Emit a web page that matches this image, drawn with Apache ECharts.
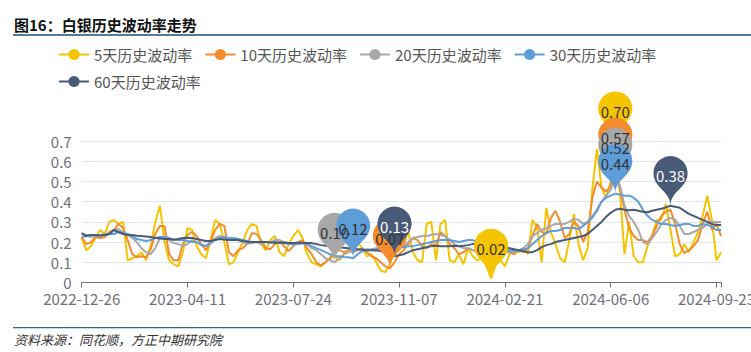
<!DOCTYPE html>
<html>
<head>
<meta charset="utf-8">
<script src="https://cdn.jsdelivr.net/npm/echarts@6/dist/echarts.min.js"></script>
<style>
html,body{margin:0;padding:0;background:#fff;}
#c{width:751px;height:352px;}
</style>
</head>
<body>
<div id="c"></div>
<script>
// ---- data ----
const tickLabels = ['2022-12-26','2023-04-11','2023-07-24','2023-11-07','2024-02-21','2024-06-06','2024-09-23'];
const pointsPerTick = 23;
const seriesNames = ['5天历史波动率','10天历史波动率','20天历史波动率','30天历史波动率','60天历史波动率'];

const vol5 = [
0.22,0.16,0.18,0.22,0.26,0.24,0.30,0.31,0.29,0.30,
0.11,0.12,0.13,0.15,0.11,0.18,0.30,0.38,0.20,0.11,
0.09,0.08,0.15,0.27,0.26,0.18,0.14,0.12,0.21,0.31,
0.29,0.20,0.09,0.10,0.15,0.20,0.26,0.29,0.28,0.19,
0.16,0.21,0.23,0.15,0.13,0.19,0.23,0.26,0.22,0.14,
0.10,0.09,0.08,0.10,0.12,0.13,0.11,0.14,0.15,0.18,
0.20,0.17,0.13,0.14,0.10,0.06,0.05,0.09,0.16,0.18,
0.20,0.25,0.15,0.11,0.10,0.29,0.30,0.11,0.29,0.31,
0.11,0.10,0.14,0.09,0.17,0.13,0.11,0.12,0.08,0.02,
0.09,0.11,0.08,0.14,0.16,0.15,0.17,0.14,0.31,0.27,
0.10,0.37,0.25,0.19,0.12,0.10,0.21,0.34,0.19,0.11,
0.17,0.46,0.66,0.47,0.42,0.50,0.70,0.45,0.14,0.30,
0.13,0.10,0.10,0.18,0.23,0.31,0.31,0.39,0.26,0.13,
0.14,0.19,0.15,0.20,0.25,0.33,0.43,0.31,0.11,0.15
];
const vol10 = [
0.225,0.19,0.20,0.225,0.22,0.225,0.25,0.26,0.29,0.27,
0.21,0.14,0.125,0.13,0.125,0.165,0.24,0.28,0.28,0.14,
0.11,0.11,0.19,0.235,0.25,0.23,0.19,0.16,0.20,0.26,
0.29,0.28,0.15,0.13,0.16,0.17,0.19,0.245,0.24,0.21,
0.17,0.165,0.19,0.21,0.18,0.155,0.18,0.20,0.21,0.17,
0.14,0.10,0.085,0.10,0.12,0.16,0.16,0.15,0.16,0.15,
0.16,0.17,0.15,0.13,0.12,0.10,0.08,0.07,0.10,0.14,
0.16,0.19,0.22,0.21,0.18,0.17,0.19,0.18,0.25,0.23,
0.19,0.17,0.14,0.15,0.17,0.16,0.15,0.15,0.14,0.12,
0.13,0.14,0.15,0.15,0.14,0.16,0.15,0.17,0.23,0.29,
0.25,0.24,0.32,0.355,0.30,0.22,0.24,0.30,0.28,0.20,
0.25,0.42,0.50,0.47,0.45,0.48,0.57,0.46,0.36,0.27,
0.23,0.21,0.21,0.20,0.23,0.28,0.33,0.35,0.36,0.29,
0.19,0.145,0.16,0.18,0.21,0.29,0.35,0.26,0.29,0.23
];
const vol20 = [
0.24,0.235,0.225,0.23,0.235,0.24,0.24,0.26,0.265,0.25,
0.235,0.22,0.20,0.17,0.15,0.14,0.17,0.22,0.225,0.21,
0.195,0.19,0.18,0.19,0.21,0.20,0.19,0.18,0.19,0.22,
0.23,0.22,0.215,0.21,0.21,0.20,0.19,0.195,0.20,0.19,
0.20,0.20,0.21,0.21,0.20,0.195,0.185,0.19,0.195,0.19,
0.17,0.16,0.14,0.12,0.11,0.10,0.12,0.14,0.15,0.155,
0.16,0.16,0.165,0.165,0.17,0.165,0.16,0.165,0.17,0.175,
0.18,0.20,0.22,0.225,0.23,0.23,0.235,0.24,0.235,0.23,
0.21,0.19,0.18,0.17,0.17,0.16,0.16,0.155,0.15,0.15,
0.16,0.165,0.16,0.15,0.155,0.16,0.17,0.19,0.23,0.245,
0.26,0.27,0.28,0.29,0.29,0.29,0.30,0.315,0.31,0.29,
0.30,0.33,0.35,0.40,0.43,0.46,0.52,0.48,0.38,0.33,
0.30,0.26,0.20,0.19,0.22,0.25,0.29,0.31,0.32,0.31,
0.28,0.24,0.24,0.25,0.26,0.27,0.29,0.30,0.30,0.30
];
const vol30 = [
0.225,0.23,0.235,0.235,0.235,0.235,0.24,0.24,0.25,0.245,
0.24,0.23,0.215,0.21,0.205,0.21,0.22,0.225,0.225,0.22,
0.21,0.21,0.21,0.205,0.20,0.20,0.185,0.18,0.20,0.21,
0.22,0.225,0.22,0.22,0.215,0.21,0.205,0.20,0.20,0.20,
0.20,0.20,0.20,0.195,0.195,0.19,0.19,0.19,0.195,0.19,
0.18,0.17,0.16,0.15,0.14,0.13,0.13,0.125,0.125,0.12,
0.14,0.155,0.16,0.16,0.165,0.17,0.17,0.175,0.175,0.175,
0.175,0.18,0.18,0.185,0.19,0.195,0.20,0.205,0.21,0.21,
0.21,0.205,0.20,0.205,0.21,0.21,0.20,0.19,0.18,0.17,
0.165,0.16,0.16,0.16,0.155,0.16,0.165,0.17,0.19,0.21,
0.23,0.245,0.255,0.255,0.26,0.27,0.27,0.27,0.265,0.28,
0.30,0.32,0.36,0.40,0.42,0.43,0.44,0.435,0.43,0.43,
0.42,0.40,0.36,0.33,0.31,0.30,0.29,0.29,0.285,0.28,
0.285,0.29,0.29,0.28,0.28,0.29,0.285,0.275,0.26,0.26
];
const vol60 = [
0.245,0.23,0.235,0.235,0.232,0.235,0.24,0.26,0.25,0.24,
0.235,0.235,0.232,0.23,0.228,0.225,0.22,0.218,0.215,0.215,
0.213,0.215,0.22,0.222,0.22,0.215,0.21,0.205,0.205,0.21,
0.215,0.213,0.21,0.21,0.21,0.205,0.202,0.20,0.20,0.20,
0.20,0.198,0.197,0.197,0.198,0.196,0.195,0.197,0.197,0.196,
0.195,0.19,0.185,0.182,0.18,0.175,0.173,0.172,0.17,0.168,
0.165,0.163,0.16,0.16,0.158,0.156,0.15,0.145,0.13,0.135,
0.14,0.15,0.16,0.165,0.17,0.175,0.18,0.182,0.18,0.18,
0.18,0.182,0.18,0.182,0.185,0.19,0.19,0.185,0.185,0.18,
0.18,0.175,0.175,0.17,0.165,0.16,0.155,0.15,0.15,0.16,
0.175,0.185,0.19,0.20,0.205,0.21,0.215,0.22,0.225,0.23,
0.24,0.26,0.28,0.30,0.325,0.345,0.36,0.365,0.36,0.358,
0.36,0.355,0.35,0.348,0.355,0.36,0.365,0.372,0.38,0.375,
0.37,0.355,0.34,0.33,0.32,0.31,0.30,0.29,0.285,0.285
];
const seriesValues = [vol5, vol10, vol20, vol30, vol60];

// ---- styles ----
const colors = ['#F5C400', '#F28C2C', '#A8A8A8', '#5E9DD8', '#485A76'];
const pinTextColors = ['#333333', '#333333', '#333333', '#333333', '#ffffff'];
const FONT = '"Noto Sans CJK SC", "Noto Sans", sans-serif';

// category dates (one category per ~3 trading days, tick dates fixed)
function fmt(ms) {
  const d = new Date(ms);
  const p = n => (n < 10 ? '0' : '') + n;
  return d.getUTCFullYear() + '-' + p(d.getUTCMonth() + 1) + '-' + p(d.getUTCDate());
}
function buildCategories() {
  const day = 86400000;
  const t = tickLabels.map(s => Date.parse(s + 'T00:00:00Z'));
  const out = [];
  for (let j = 0; j < t.length - 1; j++) {
    const span = (t[j + 1] - t[j]) / day;
    for (let s = 0; s < pointsPerTick; s++) {
      out.push(fmt(t[j] + Math.round(s * span / pointsPerTick) * day));
    }
  }
  out.push(tickLabels[tickLabels.length - 1]);
  out.push(fmt(t[t.length - 1] + 3 * day));
  return out;
}
const categories = buildCategories();

const chart = echarts.init(document.getElementById('c'), null, { renderer: 'svg' });

const series = seriesNames.map((name, i) => ({
  name: name,
  type: 'line',
  data: seriesValues[i],
  symbol: 'circle',
  showSymbol: false,
  symbolSize: 6,
  lineStyle: { width: 2, color: colors[i] },
  itemStyle: { color: colors[i] },
  markPoint: {
    symbol: 'pin',
    symbolSize: 57,
    data: [{ type: 'max', name: '最大值' }, { type: 'min', name: '最小值' }],
    itemStyle: { color: colors[i] },
    label: {
      fontSize: 15,
      fontFamily: FONT,
      color: pinTextColors[i],
      formatter: p => Number(p.value).toFixed(2)
    }
  }
}));

const option = {
  animation: false,
  color: colors,
  textStyle: { fontFamily: FONT },
  title: {
    text: '图16：白银历史波动率走势',
    left: 9,
    top: 12,
    textStyle: { fontSize: 15, fontWeight: 'bold', color: '#111', fontFamily: FONT }
  },
  legend: {
    data: seriesNames,
    left: 53,
    top: 42,
    itemWidth: 30,
    itemHeight: 14,
    itemGap: 12,
    textStyle: { fontSize: 15, color: '#555', fontFamily: FONT }
  },
  grid: { left: 81.7, right: 29.9, top: 141.1, bottom: 69.5, containLabel: false, outerBoundsMode: 'none' },
  xAxis: {
    type: 'category',
    data: categories,
    boundaryGap: false,
    axisLine: { lineStyle: { color: '#6E7079' } },
    axisTick: {
      interval: (idx) => idx % pointsPerTick === 0 || idx === categories.length - 1,
      lineStyle: { color: '#6E7079' }
    },
    axisLabel: {
      interval: pointsPerTick - 1,
      fontSize: 15,
      color: '#6E7079',
      margin: 8,
      fontFamily: FONT,
      alignMinLabel: 'center',
      alignMaxLabel: 'center'
    }
  },
  yAxis: {
    type: 'value',
    min: 0,
    max: 0.7,
    interval: 0.1,
    axisLine: { show: false },
    axisTick: { show: false },
    axisLabel: {
      fontSize: 15,
      color: '#6E7079',
      margin: 10,
      fontFamily: FONT,
      formatter: v => String(+v.toFixed(1))
    },
    splitLine: { lineStyle: { color: '#E0E6F1' } }
  },
  graphic: [
    { type: 'line', shape: { x1: 13, y1: 35, x2: 751, y2: 35 }, style: { stroke: '#1F4E79', lineWidth: 1.5 } },
    { type: 'line', shape: { x1: 13, y1: 327.7, x2: 751, y2: 327.7 }, style: { stroke: '#2F6690', lineWidth: 1.2 } },
    {
      type: 'text', left: 14, top: 333,
      style: {
        text: '资料来源：同花顺，方正中期研究院',
        fontSize: 13, fontStyle: 'italic', fontFamily: FONT, fill: '#333'
      }
    }
  ],
  series: series
};
chart.setOption(option);
</script>
</body>
</html>
